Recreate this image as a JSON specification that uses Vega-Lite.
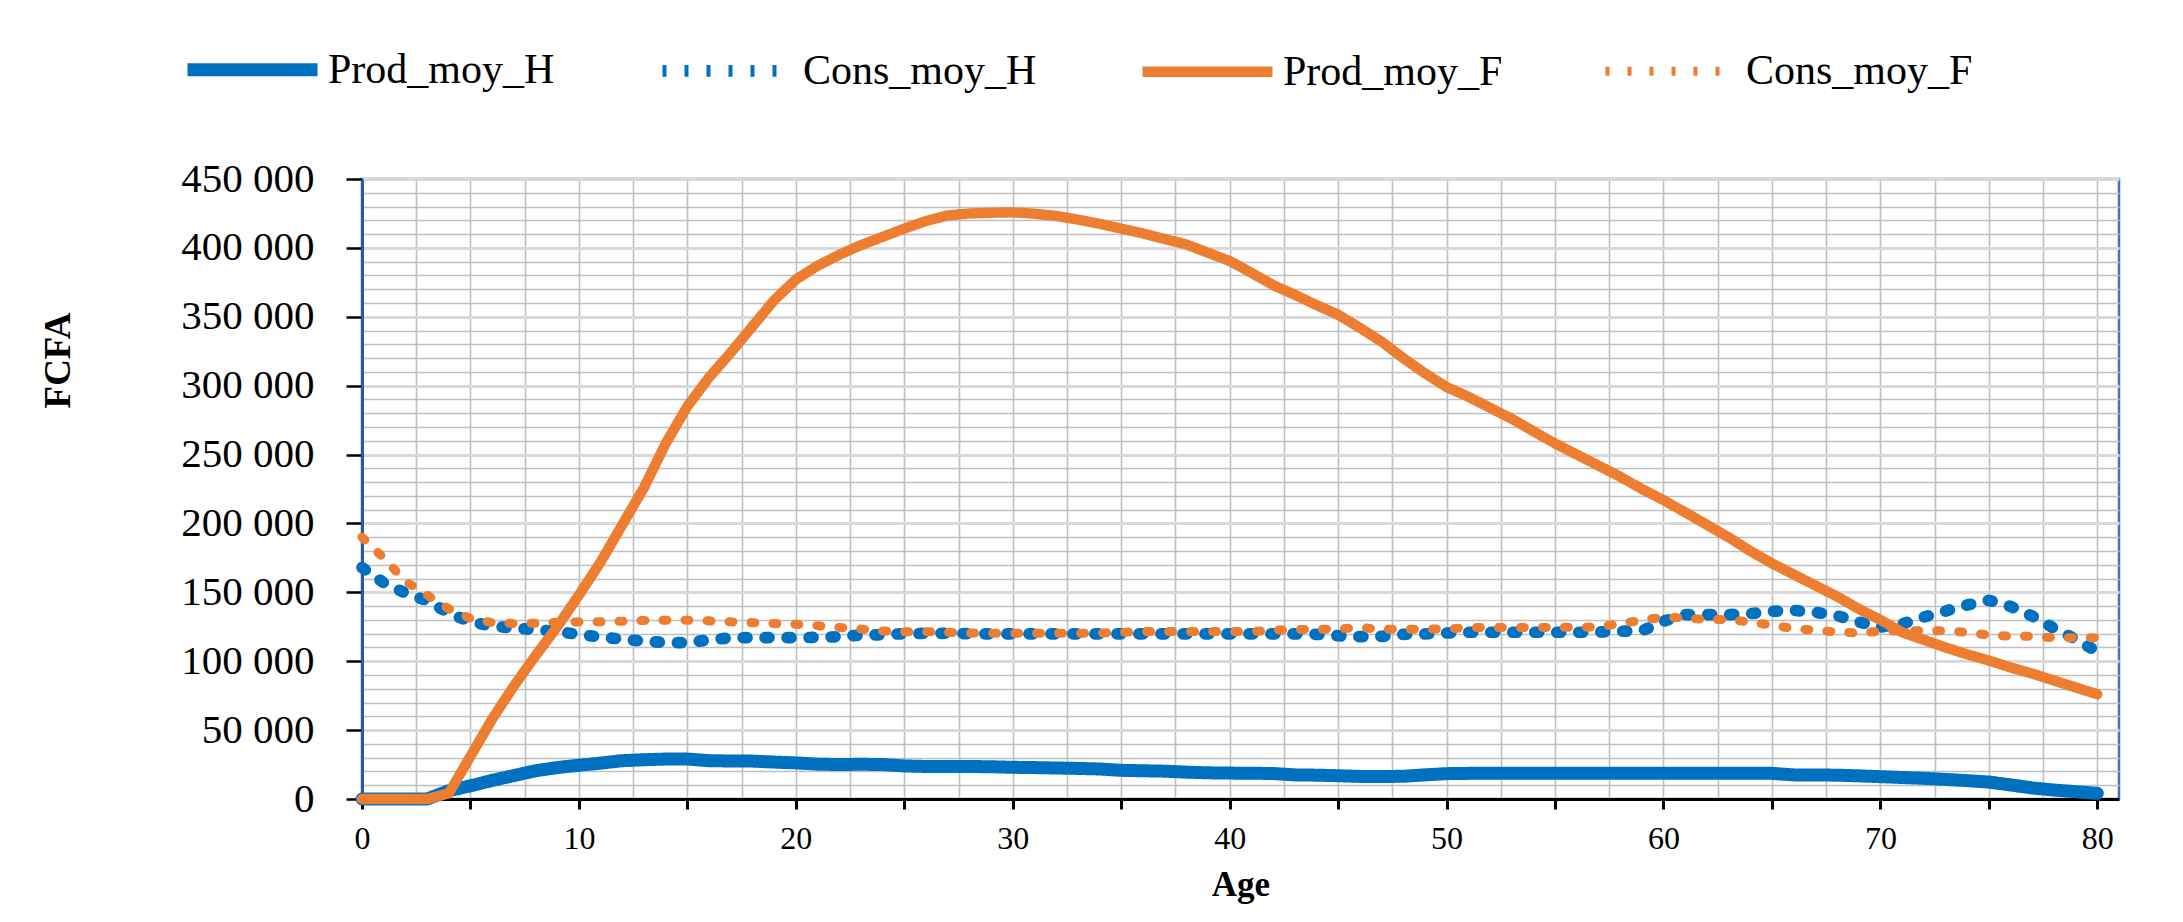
{
  "$schema": "https://vega.github.io/schema/vega-lite/v6.json",
  "width": 1757,
  "height": 620,
  "autosize": {"type": "none"},
  "padding": {"left": 362, "top": 179, "right": 64, "bottom": 123},
  "background": "white",
  "config": {
    "font": "Liberation Serif",
    "view": {"stroke": "#4472C4", "strokeWidth": 2.5},
    "axis": {"labelColor": "black", "titleColor": "black", "labelFont": "Liberation Serif", "titleFont": "Liberation Serif"}
  },
  "data": {
    "values": [
      {"age": 0, "Prod_moy_H": 0, "Cons_moy_H": 168000, "Prod_moy_F": 0, "Cons_moy_F": 190000},
      {"age": 1, "Prod_moy_H": 0, "Cons_moy_H": 157000, "Prod_moy_F": 0, "Cons_moy_F": 175000},
      {"age": 2, "Prod_moy_H": 0, "Cons_moy_H": 149500, "Prod_moy_F": 0, "Cons_moy_F": 158000},
      {"age": 3, "Prod_moy_H": 0, "Cons_moy_H": 144000, "Prod_moy_F": 0, "Cons_moy_F": 148000},
      {"age": 4, "Prod_moy_H": 6000, "Cons_moy_H": 135000, "Prod_moy_F": 4000, "Cons_moy_F": 138000},
      {"age": 5, "Prod_moy_H": 9600, "Cons_moy_H": 128500, "Prod_moy_F": 31000, "Cons_moy_F": 131000},
      {"age": 6, "Prod_moy_H": 13500, "Cons_moy_H": 125500, "Prod_moy_F": 58000, "Cons_moy_F": 128000},
      {"age": 7, "Prod_moy_H": 17000, "Cons_moy_H": 124000, "Prod_moy_F": 82000, "Cons_moy_F": 127400},
      {"age": 8, "Prod_moy_H": 20500, "Cons_moy_H": 123000, "Prod_moy_F": 104000, "Cons_moy_F": 127500},
      {"age": 9, "Prod_moy_H": 22800, "Cons_moy_H": 121500, "Prod_moy_F": 125000, "Cons_moy_F": 128300},
      {"age": 10, "Prod_moy_H": 24500, "Cons_moy_H": 119500, "Prod_moy_F": 148000, "Cons_moy_F": 128600},
      {"age": 11, "Prod_moy_H": 26000, "Cons_moy_H": 117500, "Prod_moy_F": 172000, "Cons_moy_F": 128600},
      {"age": 12, "Prod_moy_H": 27800, "Cons_moy_H": 116000, "Prod_moy_F": 199000, "Cons_moy_F": 129000},
      {"age": 13, "Prod_moy_H": 28500, "Cons_moy_H": 114500, "Prod_moy_F": 226000, "Cons_moy_F": 129600},
      {"age": 14, "Prod_moy_H": 29000, "Cons_moy_H": 113600, "Prod_moy_F": 258000, "Cons_moy_F": 129800},
      {"age": 15, "Prod_moy_H": 29000, "Cons_moy_H": 113500, "Prod_moy_F": 285000, "Cons_moy_F": 129800},
      {"age": 16, "Prod_moy_H": 27800, "Cons_moy_H": 115500, "Prod_moy_F": 306000, "Cons_moy_F": 129300},
      {"age": 17, "Prod_moy_H": 27600, "Cons_moy_H": 117000, "Prod_moy_F": 324000, "Cons_moy_F": 128600},
      {"age": 18, "Prod_moy_H": 27500, "Cons_moy_H": 117100, "Prod_moy_F": 343000, "Cons_moy_F": 128000},
      {"age": 19, "Prod_moy_H": 26800, "Cons_moy_H": 117100, "Prod_moy_F": 362000, "Cons_moy_F": 127400},
      {"age": 20, "Prod_moy_H": 26200, "Cons_moy_H": 117100, "Prod_moy_F": 377000, "Cons_moy_F": 126800},
      {"age": 21, "Prod_moy_H": 25300, "Cons_moy_H": 117300, "Prod_moy_F": 387000, "Cons_moy_F": 125800},
      {"age": 22, "Prod_moy_H": 25000, "Cons_moy_H": 117800, "Prod_moy_F": 395000, "Cons_moy_F": 124500},
      {"age": 23, "Prod_moy_H": 25200, "Cons_moy_H": 119000, "Prod_moy_F": 402000, "Cons_moy_F": 123300},
      {"age": 24, "Prod_moy_H": 25000, "Cons_moy_H": 119200, "Prod_moy_F": 408000, "Cons_moy_F": 122000},
      {"age": 25, "Prod_moy_H": 24000, "Cons_moy_H": 120000, "Prod_moy_F": 414000, "Cons_moy_F": 121400},
      {"age": 26, "Prod_moy_H": 23600, "Cons_moy_H": 120200, "Prod_moy_F": 419500, "Cons_moy_F": 121400},
      {"age": 27, "Prod_moy_H": 23600, "Cons_moy_H": 120300, "Prod_moy_F": 423500, "Cons_moy_F": 121000},
      {"age": 28, "Prod_moy_H": 23600, "Cons_moy_H": 120000, "Prod_moy_F": 425000, "Cons_moy_F": 120500},
      {"age": 29, "Prod_moy_H": 23400, "Cons_moy_H": 119800, "Prod_moy_F": 425500, "Cons_moy_F": 120300},
      {"age": 30, "Prod_moy_H": 23000, "Cons_moy_H": 119800, "Prod_moy_F": 425800, "Cons_moy_F": 120300},
      {"age": 31, "Prod_moy_H": 22800, "Cons_moy_H": 119800, "Prod_moy_F": 424800, "Cons_moy_F": 120300},
      {"age": 32, "Prod_moy_H": 22500, "Cons_moy_H": 119800, "Prod_moy_F": 423200, "Cons_moy_F": 120300},
      {"age": 33, "Prod_moy_H": 22200, "Cons_moy_H": 119800, "Prod_moy_F": 420500, "Cons_moy_F": 120300},
      {"age": 34, "Prod_moy_H": 21800, "Cons_moy_H": 119800, "Prod_moy_F": 417500, "Cons_moy_F": 120500},
      {"age": 35, "Prod_moy_H": 20800, "Cons_moy_H": 119800, "Prod_moy_F": 414000, "Cons_moy_F": 121000},
      {"age": 36, "Prod_moy_H": 20500, "Cons_moy_H": 119800, "Prod_moy_F": 410500, "Cons_moy_F": 121500},
      {"age": 37, "Prod_moy_H": 20200, "Cons_moy_H": 119800, "Prod_moy_F": 406500, "Cons_moy_F": 121500},
      {"age": 38, "Prod_moy_H": 19500, "Cons_moy_H": 119800, "Prod_moy_F": 402500, "Cons_moy_F": 121500},
      {"age": 39, "Prod_moy_H": 19000, "Cons_moy_H": 119800, "Prod_moy_F": 396500, "Cons_moy_F": 121500},
      {"age": 40, "Prod_moy_H": 18800, "Cons_moy_H": 119800, "Prod_moy_F": 390500, "Cons_moy_F": 121500},
      {"age": 41, "Prod_moy_H": 18700, "Cons_moy_H": 119800, "Prod_moy_F": 382000, "Cons_moy_F": 121500},
      {"age": 42, "Prod_moy_H": 18500, "Cons_moy_H": 119800, "Prod_moy_F": 373000, "Cons_moy_F": 122500},
      {"age": 43, "Prod_moy_H": 17500, "Cons_moy_H": 119800, "Prod_moy_F": 366000, "Cons_moy_F": 123000},
      {"age": 44, "Prod_moy_H": 17300, "Cons_moy_H": 119500, "Prod_moy_F": 358500, "Cons_moy_F": 123200},
      {"age": 45, "Prod_moy_H": 16900, "Cons_moy_H": 118500, "Prod_moy_F": 351500, "Cons_moy_F": 123400},
      {"age": 46, "Prod_moy_H": 16400, "Cons_moy_H": 117800, "Prod_moy_F": 342000, "Cons_moy_F": 124400},
      {"age": 47, "Prod_moy_H": 16300, "Cons_moy_H": 118000, "Prod_moy_F": 332000, "Cons_moy_F": 123200},
      {"age": 48, "Prod_moy_H": 16500, "Cons_moy_H": 119500, "Prod_moy_F": 320000, "Cons_moy_F": 123200},
      {"age": 49, "Prod_moy_H": 17500, "Cons_moy_H": 119800, "Prod_moy_F": 309000, "Cons_moy_F": 123200},
      {"age": 50, "Prod_moy_H": 18400, "Cons_moy_H": 120500, "Prod_moy_F": 299000, "Cons_moy_F": 123500},
      {"age": 51, "Prod_moy_H": 18600, "Cons_moy_H": 121000, "Prod_moy_F": 292000, "Cons_moy_F": 124400},
      {"age": 52, "Prod_moy_H": 18600, "Cons_moy_H": 121000, "Prod_moy_F": 284000, "Cons_moy_F": 124400},
      {"age": 53, "Prod_moy_H": 18600, "Cons_moy_H": 121000, "Prod_moy_F": 276000, "Cons_moy_F": 124400},
      {"age": 54, "Prod_moy_H": 18600, "Cons_moy_H": 121000, "Prod_moy_F": 267000, "Cons_moy_F": 124500},
      {"age": 55, "Prod_moy_H": 18600, "Cons_moy_H": 121000, "Prod_moy_F": 258000, "Cons_moy_F": 124600},
      {"age": 56, "Prod_moy_H": 18600, "Cons_moy_H": 121000, "Prod_moy_F": 250000, "Cons_moy_F": 124700},
      {"age": 57, "Prod_moy_H": 18600, "Cons_moy_H": 121200, "Prod_moy_F": 242000, "Cons_moy_F": 124800},
      {"age": 58, "Prod_moy_H": 18600, "Cons_moy_H": 121700, "Prod_moy_F": 234000, "Cons_moy_F": 127300},
      {"age": 59, "Prod_moy_H": 18600, "Cons_moy_H": 122000, "Prod_moy_F": 225000, "Cons_moy_F": 129700},
      {"age": 60, "Prod_moy_H": 18600, "Cons_moy_H": 129000, "Prod_moy_F": 217000, "Cons_moy_F": 132100},
      {"age": 61, "Prod_moy_H": 18600, "Cons_moy_H": 133800, "Prod_moy_F": 208000, "Cons_moy_F": 131400},
      {"age": 62, "Prod_moy_H": 18600, "Cons_moy_H": 133800, "Prod_moy_F": 199000, "Cons_moy_F": 130200},
      {"age": 63, "Prod_moy_H": 18600, "Cons_moy_H": 133800, "Prod_moy_F": 190000, "Cons_moy_F": 130200},
      {"age": 64, "Prod_moy_H": 18600, "Cons_moy_H": 134500, "Prod_moy_F": 180000, "Cons_moy_F": 128500},
      {"age": 65, "Prod_moy_H": 18600, "Cons_moy_H": 136200, "Prod_moy_F": 171000, "Cons_moy_F": 126100},
      {"age": 66, "Prod_moy_H": 17500, "Cons_moy_H": 136900, "Prod_moy_F": 163000, "Cons_moy_F": 123700},
      {"age": 67, "Prod_moy_H": 17400, "Cons_moy_H": 135500, "Prod_moy_F": 155000, "Cons_moy_F": 122500},
      {"age": 68, "Prod_moy_H": 17300, "Cons_moy_H": 133100, "Prod_moy_F": 147000, "Cons_moy_F": 121200},
      {"age": 69, "Prod_moy_H": 16800, "Cons_moy_H": 128500, "Prod_moy_F": 138000, "Cons_moy_F": 120500},
      {"age": 70, "Prod_moy_H": 16200, "Cons_moy_H": 124800, "Prod_moy_F": 130000, "Cons_moy_F": 121700},
      {"age": 71, "Prod_moy_H": 15600, "Cons_moy_H": 127000, "Prod_moy_F": 121000, "Cons_moy_F": 122200},
      {"age": 72, "Prod_moy_H": 15000, "Cons_moy_H": 132100, "Prod_moy_F": 115500, "Cons_moy_F": 122200},
      {"age": 73, "Prod_moy_H": 14200, "Cons_moy_H": 136400, "Prod_moy_F": 110000, "Cons_moy_F": 122000},
      {"age": 74, "Prod_moy_H": 13300, "Cons_moy_H": 140800, "Prod_moy_F": 105000, "Cons_moy_F": 121000},
      {"age": 75, "Prod_moy_H": 12300, "Cons_moy_H": 144200, "Prod_moy_F": 100500, "Cons_moy_F": 119000},
      {"age": 76, "Prod_moy_H": 10200, "Cons_moy_H": 139800, "Prod_moy_F": 95500, "Cons_moy_F": 118100},
      {"age": 77, "Prod_moy_H": 8000, "Cons_moy_H": 132800, "Prod_moy_F": 91000, "Cons_moy_F": 118100},
      {"age": 78, "Prod_moy_H": 6500, "Cons_moy_H": 124000, "Prod_moy_F": 86000, "Cons_moy_F": 117100},
      {"age": 79, "Prod_moy_H": 5300, "Cons_moy_H": 116000, "Prod_moy_F": 81000, "Cons_moy_F": 117100},
      {"age": 80, "Prod_moy_H": 4100, "Cons_moy_H": 107000, "Prod_moy_F": 76000, "Cons_moy_F": 117100}
    ]
  },
  "transform": [
    {"fold": ["Prod_moy_H", "Cons_moy_H", "Prod_moy_F", "Cons_moy_F"], "as": ["serie", "valeur"]}
  ],
  "encoding": {
    "color": {
      "field": "serie", "type": "nominal",
      "scale": {"domain": ["Prod_moy_H", "Cons_moy_H", "Prod_moy_F", "Cons_moy_F"], "range": ["#0070C0", "#0070C0", "#ED7D31", "#ED7D31"]},
      "legend": {"title": null, "orient": "none", "legendX": -181, "legendY": -181, "direction": "horizontal", "columns": 4, "columnPadding": 84, "symbolType": "stroke", "symbolSize": 16900, "labelFont": "Liberation Serif", "labelFontSize": 42, "labelColor": "black", "labelOffset": 4, "padding": 0, "labelLimit": 0}
    },
    "strokeDash": {
      "field": "serie", "type": "nominal",
      "scale": {"domain": ["Prod_moy_H", "Cons_moy_H", "Prod_moy_F", "Cons_moy_F"], "range": [[1, 0], [4, 18], [1, 0], [4, 18]]},
      "legend": {"title": null, "orient": "none", "legendX": -181, "legendY": -181, "direction": "horizontal", "columns": 4, "columnPadding": 84, "symbolType": "stroke", "symbolSize": 16900, "labelFont": "Liberation Serif", "labelFontSize": 42, "labelColor": "black", "labelOffset": 4, "padding": 0, "labelLimit": 0}
    },
    "strokeWidth": {
      "field": "serie", "type": "nominal",
      "scale": {"domain": ["Prod_moy_H", "Cons_moy_H", "Prod_moy_F", "Cons_moy_F"], "range": [13, 9, 13, 9]},
      "legend": {"title": null, "orient": "none", "legendX": -181, "legendY": -181, "direction": "horizontal", "columns": 4, "columnPadding": 84, "symbolType": "stroke", "symbolSize": 16900, "labelFont": "Liberation Serif", "labelFontSize": 42, "labelColor": "black", "labelOffset": 4, "padding": 0, "labelLimit": 0}
    }
  },
  "layer": [
    {
      "transform": [{"filter": "datum.serie === 'Prod_moy_H'"}],
      "mark": {"type": "line", "strokeCap": "round", "strokeJoin": "round"},
      "encoding": {
        "x": {"field": "age", "type": "quantitative", "scale": {"domain": [0, 81], "nice": false, "zero": false}, "axis": null},
        "y": {"field": "valeur", "type": "quantitative", "scale": {"domain": [0, 450000], "nice": false},
          "axis": {"orient": "left", "values": [10000,20000,30000,40000,60000,70000,80000,90000,110000,120000,130000,140000,160000,170000,180000,190000,210000,220000,230000,240000,260000,270000,280000,290000,310000,320000,330000,340000,360000,370000,380000,390000,410000,420000,430000,440000],
            "grid": true, "gridColor": "#bfbfbf", "gridWidth": 1.4, "gridOpacity": 1, "ticks": false, "labels": false, "domain": false, "title": null}}
      }
    },
    {
      "transform": [{"filter": "datum.serie === 'Cons_moy_H'"}],
      "mark": {"type": "line", "strokeCap": "round", "strokeJoin": "round"},
      "encoding": {
        "x": {"field": "age", "type": "quantitative", "scale": {"domain": [0, 81], "nice": false, "zero": false}, "axis": null},
        "y": {"field": "valeur", "type": "quantitative", "scale": {"domain": [0, 450000], "nice": false},
          "axis": {"orient": "left", "values": [0,50000,100000,150000,200000,250000,300000,350000,400000,450000],
            "grid": true, "gridColor": "#d9d9d9", "gridWidth": 3, "gridOpacity": 1,
            "ticks": true, "tickColor": "black", "tickWidth": 2.5, "tickSize": 16,
            "labels": true, "labelFontSize": 41, "labelPadding": 32, "labelOverlap": false, "labelBound": false, "labelFlush": false,
            "labelExpr": "replace(format(datum.value, ','), regexp(',', 'g'), ' ')",
            "domain": true, "domainColor": "#2f55a4", "domainWidth": 3,
            "title": "FCFA", "titleFontSize": 37, "titleFontWeight": "bold", "titleAngle": -90, "titleX": -304, "titleY": 181, "titleAlign": "center", "titleBaseline": "middle"}}
      }
    },
    {
      "transform": [{"filter": "datum.serie === 'Prod_moy_F'"}],
      "mark": {"type": "line", "strokeCap": "round", "strokeJoin": "round"},
      "encoding": {
        "x": {"field": "age", "type": "quantitative", "scale": {"domain": [0, 81], "nice": false, "zero": false},
          "axis": {"orient": "bottom", "values": [0,2.5,5,7.5,10,12.5,15,17.5,20,22.5,25,27.5,30,32.5,35,37.5,40,42.5,45,47.5,50,52.5,55,57.5,60,62.5,65,67.5,70,72.5,75,77.5,80],
            "grid": true, "gridColor": "#bfbfbf", "gridWidth": 1.6, "gridOpacity": 1, "ticks": false, "labels": false, "domain": false, "title": null}},
        "y": {"field": "valeur", "type": "quantitative", "scale": {"domain": [0, 450000], "nice": false}, "axis": null}
      }
    },
    {
      "transform": [{"filter": "datum.serie === 'Cons_moy_F'"}],
      "mark": {"type": "line", "strokeCap": "round", "strokeJoin": "round"},
      "encoding": {
        "x": {"field": "age", "type": "quantitative", "scale": {"domain": [0, 81], "nice": false, "zero": false},
          "axis": {"orient": "bottom", "values": [0,5,10,15,20,25,30,35,40,45,50,55,60,65,70,75,80],
            "grid": false, "ticks": true, "tickColor": "black", "tickWidth": 3, "tickSize": 10,
            "labels": true, "labelFontSize": 32, "labelPadding": 14, "labelDx": 10, "labelOverlap": false, "labelBound": false, "labelFlush": false,
            "labelExpr": "datum.value % 10 === 0 ? datum.label : ''",
            "domain": true, "domainColor": "black", "domainWidth": 3,
            "title": "Age", "titleFontSize": 35, "titleFontWeight": "bold", "titleY": 96, "titleBaseline": "alphabetic"}},
        "y": {"field": "valeur", "type": "quantitative", "scale": {"domain": [0, 450000], "nice": false}, "axis": null}
      }
    }
  ],
  "resolve": {"axis": {"x": "independent", "y": "independent"}}
}
